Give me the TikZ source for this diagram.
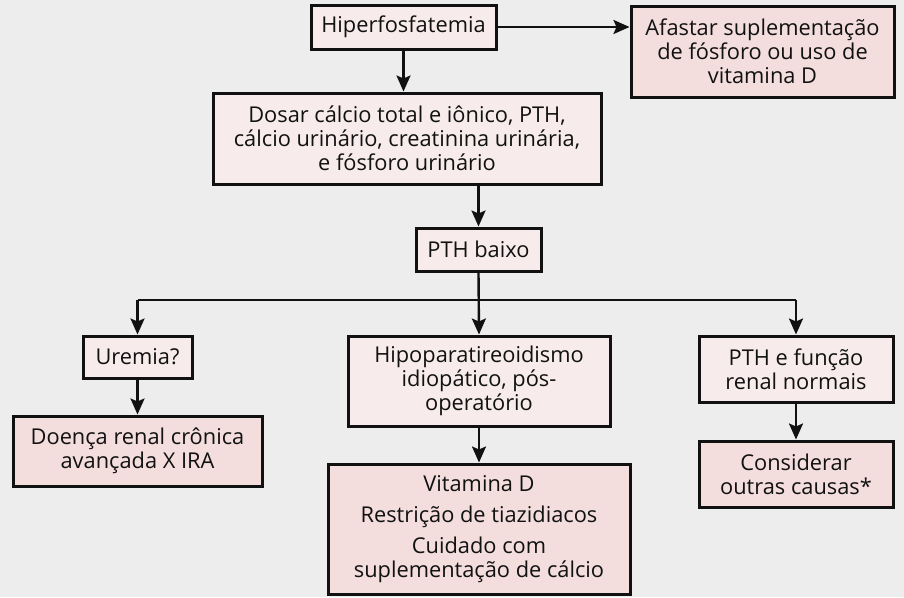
\documentclass[tikz,border=0pt]{standalone}
\usepackage{fontspec}
\setmainfont{Open Sans}
\usetikzlibrary{arrows.meta,calc}
\definecolor{bg}{HTML}{EDEDED}
\definecolor{boxlight}{HTML}{F7EBEB}
\definecolor{boxdark}{HTML}{F3DDDD}
\definecolor{ink}{HTML}{111111}
\begin{document}
\begin{tikzpicture}[x=1pt,y=-1pt,
  font=\fontsize{21.8}{24}\selectfont,
  boxbase/.style={draw=ink, line width=3pt, inner sep=0pt, align=center, text=ink},
  lightbox/.style={boxbase, fill=boxlight},
  darkbox/.style={boxbase, fill=boxdark},
  conn/.style={draw=ink, line width=2.4pt},
  arr/.style={conn, -{Stealth[length=16pt,width=14pt,inset=3pt]}}]
\fill[bg] (0,0) rectangle (904,597);
\useasboundingbox (0,0) rectangle (904,597);

\node[lightbox, minimum width=185pt, minimum height=44pt] (hip) at (403.5,27) {Hiperfosfatemia};
\node[darkbox, minimum width=263pt, minimum height=91pt] (afa) at (762.5,51.5) {Afastar suplementação\\de fósforo ou uso de\\vitamina D};
\node[lightbox, minimum width=388pt, minimum height=91pt] (dos) at (407,138.5) {Dosar cálcio total e iônico, PTH,\\cálcio urinário, creatinina urinária,\\e fósforo urinário};
\node[lightbox, minimum width=125pt, minimum height=43pt] (pth) at (478.5,249.5) {PTH baixo};
\node[lightbox, minimum width=109pt, minimum height=42pt] (ure) at (137.5,357) {Uremia?};
\node[darkbox, minimum width=249pt, minimum height=70pt] (doe) at (137.5,451) {Doença renal crônica\\avançada X IRA};
\node[lightbox, minimum width=262pt, minimum height=90pt] (hpo) at (479,381) {Hipoparatireoidismo\\idiopático, pós-\\operatório};
\node[darkbox, minimum width=302pt, minimum height=130pt] (vit) at (479,529) {Vitamina D\\[7pt]Restrição de tiazidiacos\\[7pt]Cuidado com\\suplementação de cálcio};
\node[lightbox, minimum width=194pt, minimum height=66pt] (ptf) at (796,369) {PTH e função\\renal normais};
\node[darkbox, minimum width=194pt, minimum height=66pt] (con) at (796,474) {Considerar\\outras causas*};

\coordinate (j) at (479,300);

\draw[arr] (hip.east) -- (hip.east -| afa.west);
\draw[arr] (hip.south) -- (hip.south |- dos.north);
\draw[arr] (pth.north |- dos.south) -- (pth.north);
\draw[arr] (pth.south) -- (hpo.north);
\draw[conn] (ure.north |- j) -- (ptf.north |- j);
\draw[arr] (ure.north |- j) -- (ure.north);
\draw[arr] (ptf.north |- j) -- (ptf.north);
\draw[arr] (ure.south) -- (doe.north);
\draw[arr] (hpo.south) -- (vit.north);
\draw[arr] (ptf.south) -- (con.north);
\end{tikzpicture}
\end{document}
